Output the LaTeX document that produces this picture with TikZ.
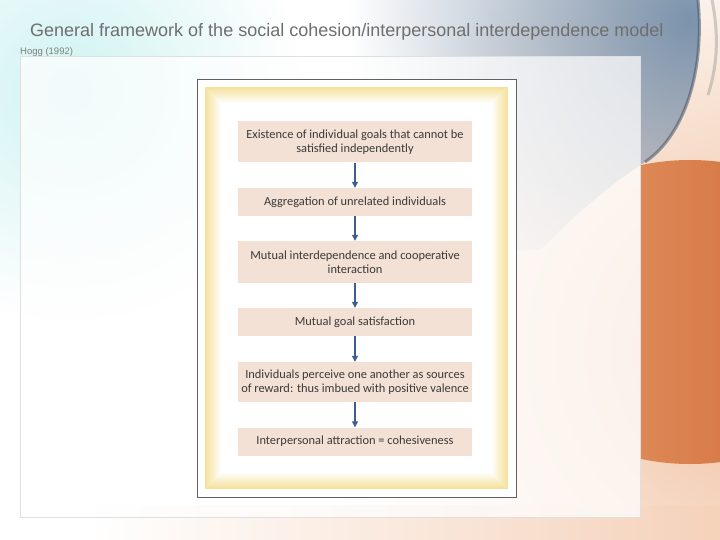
\documentclass[tikz,border=0pt]{standalone}
\usepackage{fontspec}
\setmainfont{Liberation Sans}
\newfontfamily\boxfont{Carlito}
\usetikzlibrary{arrows.meta,fadings}
\tikzfading[name=glowfade, inner color=transparent!0, outer color=transparent!100]
\definecolor{peach}{HTML}{F4E1D6}
\definecolor{arrowblue}{HTML}{3C5F8E}
\definecolor{yellowf}{HTML}{F6E19A}
\definecolor{titlegray}{HTML}{6E6E6E}
\definecolor{textgray}{HTML}{3A3A3A}
\definecolor{steel}{HTML}{7C93AC}
\definecolor{glassdark}{HTML}{3A4A60}
\definecolor{orangelight}{HTML}{E79C6C}
\definecolor{orangedark}{HTML}{CC6530}
\definecolor{peachglow}{HTML}{F0BE9C}
\definecolor{cyanglow}{HTML}{CFF3F2}
\tikzset{
  flowbox/.style={fill=peach, draw=none, minimum width=234pt, inner sep=0pt, align=center,
    text=textgray, font=\boxfont\fontsize{12.4}{14.5}\selectfont},
  flowarrow/.style={draw=arrowblue, line width=1.2pt, -{Triangle[width=6pt,length=6pt]}}
}
\begin{document}
\begin{tikzpicture}[x=1pt,y=-1pt]
\useasboundingbox (0,0) rectangle (720,540);
\begin{scope}
\clip (0,0) rectangle (720,540);
\fill[white] (0,0) rectangle (720,540);
% peach glow right
\fill[peachglow, path fading=glowfade] (760,350) circle (440pt);
% cyan glow top-left
\fill[cyanglow, path fading=glowfade] (70,90) circle (230pt);
% bottom grey band
\shade[left color=white, middle color=gray!45, right color=peachglow!70] (90,505) rectangle (720,540);
% blue-grey glass top-right
\begin{scope}
\clip (330,0) -- (698,0) .. controls (705,70) and (685,135) .. (645,162) .. controls (610,185) and (580,210) .. (540,250) -- (330,250) -- cycle;
\fill[steel, path fading=glowfade] (690,20) circle (340pt);
\end{scope}
\draw[glassdark, line width=3pt, opacity=0.5] (698,0) .. controls (705,70) and (685,135) .. (645,162);
\draw[gray, line width=3pt, opacity=0.35] (712,0) .. controls (720,40) and (716,70) .. (708,95);
% orange sphere (visible part right of the panel)
\begin{scope}
\clip (640,0) rectangle (720,540);
\shade[left color=orangelight, right color=orangedark] (690,312) ellipse (190pt and 152pt);
\end{scope}
\end{scope}
% panel
\fill[white, opacity=0.72] (20,56) rectangle (640,517);
\draw[gray!25, line width=0.6pt] (20,56) rectangle (640,517);
% title and source
\node[anchor=base west, inner sep=0pt, text=titlegray, font=\fontsize{18}{20}\selectfont] (title) at (30,37) {General framework of the social cohesion/interpersonal interdependence model};
\node[anchor=base west, inner sep=0pt, text=gray, font=\fontsize{9.5}{10}\selectfont] (src) at (20,55) {Hogg (1992)};
% figure frame
\fill[white] (197,79) rectangle (516,497);
\foreach \i in {0,...,16} {
  \pgfmathsetmacro\p{100-\i*6.25}
  \fill[yellowf!\p!white] (205+\i,87+\i) rectangle (508-\i,489-\i);
}
\draw[gray!75!black, line width=0.7pt] (197,79) rectangle (516,497);
% boxes
\node[flowbox, minimum height=41pt] (b1) at (355,142) {Existence of individual goals that cannot be\\satisfied independently};
\node[flowbox, minimum height=28pt] (b2) at (355,202) {Aggregation of unrelated individuals};
\node[flowbox, minimum height=42pt] (b3) at (355,262) {Mutual interdependence and cooperative\\interaction};
\node[flowbox, minimum height=28pt] (b4) at (355,322) {Mutual goal satisfaction};
\node[flowbox, minimum height=40pt] (b5) at (355,382) {Individuals perceive one another as sources\\of reward: thus imbued with positive valence};
\node[flowbox, minimum height=28pt] (b6) at (355,441.5) {Interpersonal attraction = cohesiveness};
% arrows
\draw[flowarrow] (b1.south) -- (b2.north);
\draw[flowarrow] (b2.south) -- (b3.north);
\draw[flowarrow] (b3.south) -- (b4.north);
\draw[flowarrow] (b4.south) -- (b5.north);
\draw[flowarrow] (b5.south) -- (b6.north);
\end{tikzpicture}
\end{document}
